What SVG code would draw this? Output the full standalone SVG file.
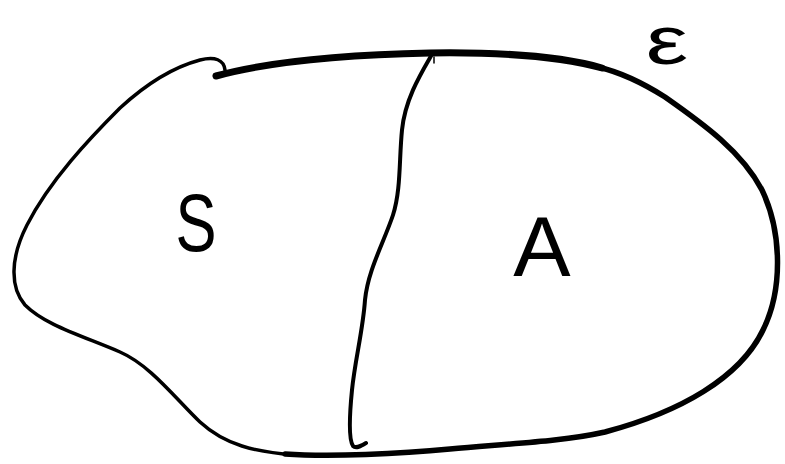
<svg xmlns="http://www.w3.org/2000/svg" width="785" height="464" viewBox="0 0 785 464">
<style>
.ln{fill:none;stroke:#000;stroke-linecap:round;stroke-linejoin:round}
.lbl{font-family:"Liberation Sans","DejaVu Sans",sans-serif;fill:#000;text-anchor:middle}
</style>
<rect width="785" height="464" fill="#fff"/>
<g id="outline">
<path class="ln" stroke-width="3.5" d="M 225 70 C 224 60, 215 56, 200 60 C 170 68, 145 85, 120 108 C 90 138, 50 180, 27 225 C 10 258, 10 288, 25 305 C 45 325, 80 335, 120 352 C 150 365, 175 398, 200 422 C 225 445, 255 452, 295 455"/>
<path class="ln" stroke-width="5.5" d="M 285 454 C 330 457, 400 454, 450 449 C 520 443, 565 441, 605 432 C 680 412, 740 378, 763 330 C 783 290, 782 232, 762 190 C 742 152, 705 125, 665 97 C 635 78, 615 71, 598 67"/>
<path class="ln" stroke-width="7" d="M 216 76 C 260 64, 330 55, 430 53 C 500 52, 560 56, 602 68"/>
</g>
<g id="divider">
<path class="ln" stroke-width="4" d="M 431 56 C 420 75, 405 100, 402 130 C 399 160, 401 190, 393 215 C 384 242, 368 270, 365 300 C 363 330, 355 360, 352 390 C 349 420, 349 440, 353 446 C 356 449, 361 446, 366 443"/>
<path class="ln" stroke-width="1.5" d="M 434 57 L 434 63"/>
</g>
<g id="label-S"><text class="lbl" x="0" y="0" font-size="82" transform="translate(196,251) scale(0.75,1)">S</text></g>
<g id="label-A"><text class="lbl" x="542" y="276" font-size="86">A</text></g>
<g id="label-E"><text class="lbl" x="0" y="0" font-size="68" transform="translate(667,64) scale(1.4,1)">ε</text></g>
</svg>
